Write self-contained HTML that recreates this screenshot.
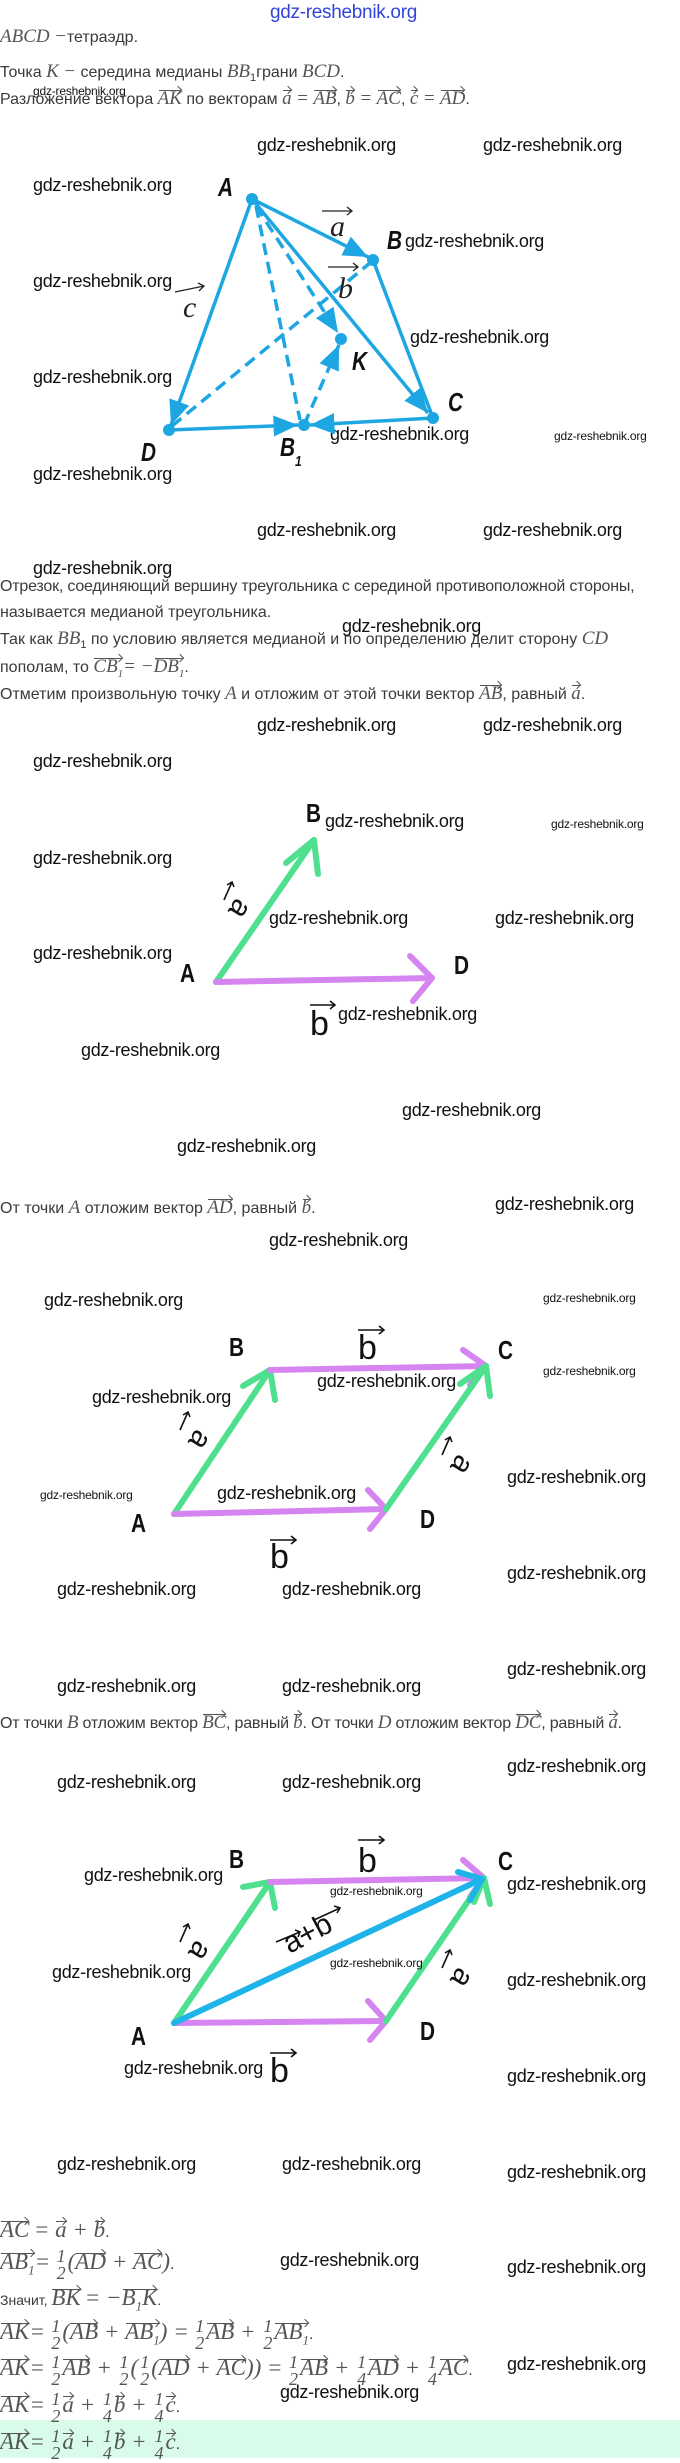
<!DOCTYPE html>
<html><head><meta charset="utf-8">
<style>
*{margin:0;padding:0}
body{width:680px;height:2458px;position:relative;background:#fff;overflow:hidden;font-family:"Liberation Sans",sans-serif;color:#3a3a3a}
.t{position:absolute;left:0;font-size:16px;line-height:20px;white-space:nowrap}
.m{font-family:"Liberation Serif",serif;font-style:italic;font-size:19px;color:#555}
.v{position:relative;display:inline-block}
.v::before{content:"";position:absolute;left:1px;right:1px;top:1px;border-top:1px solid #555}
.v::after{content:"";position:absolute;right:1px;top:-2px;width:5px;height:5px;border-top:1px solid #555;border-right:1px solid #555;transform:rotate(45deg)}
.w{position:absolute;font-family:"Liberation Sans",sans-serif;font-size:18px;line-height:22px;color:#111;white-space:nowrap;letter-spacing:-0.3px}
.ws{font-size:12px;line-height:16px;letter-spacing:-0.2px}
.L{position:absolute;font-family:"Liberation Sans",sans-serif;font-weight:bold;font-size:26px;line-height:30px;color:#111;transform:scaleX(0.8);transform-origin:left}
.fr{display:inline-block;vertical-align:middle;text-align:center;font-size:17px;line-height:17px;margin:0 2px}
.fr span{display:block}
.f .m{font-size:23px}
.f .fr.m{font-size:18px}
</style></head><body>

<div class="w" style="left:270px;top:2px;color:#3344dd;font-size:19px;">gdz-reshebnik.org</div>

<div class="t" style="top:27px"><span class="m">ABCD</span> <span class="m">−</span>тетраэдр.</div>
<div class="t" style="top:62px">Точка <span class="m">K</span> <span class="m">−</span> середина медианы <span class="m">BB</span><sub style="font-size:11px">1</sub>грани <span class="m">BCD</span>.</div>
<div class="w ws" style="left:33px;top:83px">gdz-reshebnik.org</div>
<div class="t" style="top:89px">Разложение вектора <span class="m v">AK</span> по векторам <span class="m v">a</span> <span class="m">=</span> <span class="m v">AB</span>, <span class="m v">b</span> <span class="m">=</span> <span class="m v">AC</span>, <span class="m v">c</span> <span class="m">=</span> <span class="m v">AD</span>.</div>

<div class="w" style="left:257px;top:134px">gdz-reshebnik.org</div>
<div class="w" style="left:483px;top:134px">gdz-reshebnik.org</div>
<div class="w" style="left:33px;top:174px">gdz-reshebnik.org</div>
<div class="w" style="left:405px;top:230px">gdz-reshebnik.org</div>
<div class="w" style="left:33px;top:270px">gdz-reshebnik.org</div>
<div class="w" style="left:410px;top:326px">gdz-reshebnik.org</div>
<div class="w" style="left:33px;top:366px">gdz-reshebnik.org</div>
<div class="w" style="left:330px;top:423px">gdz-reshebnik.org</div>
<div class="w ws" style="left:554px;top:428px">gdz-reshebnik.org</div>
<div class="w" style="left:33px;top:463px">gdz-reshebnik.org</div>
<div class="w" style="left:257px;top:519px">gdz-reshebnik.org</div>
<div class="w" style="left:483px;top:519px">gdz-reshebnik.org</div>
<div class="w" style="left:33px;top:557px">gdz-reshebnik.org</div>

<svg style="position:absolute;left:0;top:0" width="680" height="2458">
<defs>
<marker id="ab" markerWidth="8" markerHeight="8" refX="7" refY="4" orient="auto" markerUnits="strokeWidth"><path d="M0,1 L7,4 L0,7 z" fill="#1ea6e2"/></marker>
</defs>
<g stroke="#1ea6e2" stroke-width="3.5" fill="none">
<line x1="252" y1="199" x2="368" y2="257" marker-end="url(#ab)"/>
<line x1="252" y1="199" x2="428" y2="413" marker-end="url(#ab)"/>
<line x1="252" y1="199" x2="171" y2="425" marker-end="url(#ab)"/>
<line x1="373" y1="260" x2="433" y2="418"/>
<line x1="169" y1="430" x2="298" y2="425" marker-end="url(#ab)"/>
<line x1="433" y1="418" x2="310" y2="425" marker-end="url(#ab)"/>
<g stroke-dasharray="12,7">
<line x1="256" y1="206" x2="300" y2="420"/>
<line x1="256" y1="206" x2="338" y2="333" marker-end="url(#ab)"/>
<line x1="172" y1="426" x2="370" y2="263"/>
<line x1="304" y1="425" x2="339" y2="345" marker-end="url(#ab)"/>
</g>
</g>
<g fill="#1ea6e2">
<circle cx="252" cy="199" r="6"/><circle cx="373" cy="260" r="6"/><circle cx="433" cy="418" r="6"/>
<circle cx="169" cy="430" r="6"/><circle cx="304" cy="425" r="6"/><circle cx="341" cy="339" r="6"/>
</g>
<g font-family="Liberation Serif,serif" font-style="italic" font-size="30" fill="#222">
<text x="330" y="236">a</text><text x="338" y="298">b</text><text x="183" y="317">c</text>
</g>
<g stroke="#222" stroke-width="1.3" fill="none">
<path d="M322,211 H352 M347,207 L352,211 L347,215"/>
<path d="M328,267 H358 M353,263 L358,267 L353,271"/>
<path d="M175,292 L204,286 M198,283 L204,286 L199,291"/>
</g>

<g fill="none" stroke-width="6" stroke-linecap="round" stroke-linejoin="round">
<line x1="216" y1="982" x2="314" y2="840" stroke="#4fe08f"/>
<polyline points="286,863 314,840 318,874" stroke="#4fe08f"/>
<line x1="216" y1="982" x2="432" y2="978" stroke="#d684f0"/>
<polyline points="410,956 432,978 413,1001" stroke="#d684f0"/>
</g>

<g fill="none" stroke-width="6" stroke-linecap="round" stroke-linejoin="round">
<line x1="174" y1="1514" x2="270" y2="1370" stroke="#4fe08f"/>
<polyline points="243,1386 270,1370 275,1400" stroke="#4fe08f"/>
<line x1="270" y1="1370" x2="486" y2="1366" stroke="#d684f0"/>
<polyline points="463,1350 486,1366 470,1385" stroke="#d684f0"/>
<line x1="174" y1="1514" x2="386" y2="1509" stroke="#d684f0"/>
<polyline points="368,1490 386,1509 370,1529" stroke="#d684f0"/>
<line x1="386" y1="1509" x2="486" y2="1366" stroke="#4fe08f"/>
<polyline points="460,1384 486,1366 490,1396" stroke="#4fe08f"/>
</g>

<g fill="none" stroke-width="6" stroke-linecap="round" stroke-linejoin="round">
<line x1="174" y1="2023" x2="270" y2="1882" stroke="#4fe08f"/>
<polyline points="243,1887 270,1882 275,1908" stroke="#4fe08f"/>
<line x1="270" y1="1882" x2="484" y2="1878" stroke="#d684f0"/>
<polyline points="463,1860 484,1878 470,1897" stroke="#d684f0"/>
<line x1="174" y1="2023" x2="386" y2="2021" stroke="#d684f0"/>
<polyline points="368,2001 386,2021 370,2040" stroke="#d684f0"/>
<line x1="386" y1="2021" x2="484" y2="1878" stroke="#4fe08f"/>
<polyline points="474,1902 484,1878 490,1904" stroke="#4fe08f"/>
<line x1="174" y1="2023" x2="482" y2="1879" stroke="#1eb4ea"/>
<polyline points="458,1872 482,1879 470,1900" stroke="#1eb4ea"/>
</g>
<g font-family="Liberation Sans,sans-serif" font-size="34" fill="#111">
<text x="310" y="1035">b</text>
<text x="358" y="1359">b</text><text x="270" y="1568">b</text>
<text x="358" y="1872">b</text><text x="270" y="2082">b</text>
</g>
<g stroke="#111" stroke-width="1.6" fill="none">
<path d="M310,1005 H335 M330,1001 L335,1005 L330,1009"/>
<path d="M358,1330 H384 M379,1326 L384,1330 L379,1334"/>
<path d="M270,1540 H296 M291,1536 L296,1540 L291,1544"/>
<path d="M270,2053 H296 M291,2049 L296,2053 L291,2057"/>
<path d="M358,1840 H384 M379,1836 L384,1840 L379,1844"/>
</g>
<g font-family="Liberation Sans,sans-serif" font-size="30" fill="#111">
<text transform="translate(232,904) rotate(122)" text-anchor="middle">a</text>
<text transform="translate(192,1435) rotate(122)" text-anchor="middle">a</text>
<text transform="translate(454,1460) rotate(122)" text-anchor="middle">a</text>
<text transform="translate(192,1946) rotate(122)" text-anchor="middle">a</text>
<text transform="translate(454,1973) rotate(122)" text-anchor="middle">a</text>
<text transform="translate(312,1942) rotate(-28)" text-anchor="middle">a+b</text>
</g>
<g stroke="#111" stroke-width="1.6" fill="none">
<path d="M224,900 L232,882 M227,885 L232,882 L234,887"/>
<path d="M180,1430 L188,1412 M183,1415 L188,1412 L190,1417"/>
<path d="M442,1455 L450,1437 M445,1440 L450,1437 L452,1442"/>
<path d="M180,1942 L188,1924 M183,1927 L188,1924 L190,1929"/>
<path d="M442,1968 L450,1950 M445,1953 L450,1950 L452,1955"/>
<path d="M276,1942 L300,1932 M295,1930 L300,1932 L298,1937"/>
<path d="M314,1920 L340,1908 M334,1906 L340,1908 L337,1913"/>
</g>
</svg>

<div class="L" style="left:218px;top:172px;font-style:italic">A</div>
<div class="L" style="left:387px;top:225px;font-style:italic">B</div>
<div class="L" style="left:448px;top:387px;font-style:italic">C</div>
<div class="L" style="left:141px;top:437px;font-style:italic">D</div>
<div class="L" style="left:280px;top:432px;font-style:italic">B<span style="font-size:15px;vertical-align:-10px">1</span></div>
<div class="L" style="left:352px;top:346px;font-style:italic">K</div>

<div class="t" style="top:577px;letter-spacing:-0.2px">Отрезок, соединяющий вершину треугольника с серединой противоположной стороны,</div>
<div class="t" style="top:603px">называется медианой треугольника.</div>
<div class="t" style="top:629px">Так как <span class="m">BB</span><sub style="font-size:11px">1</sub> по условию является медианой и по определению делит сторону <span class="m">CD</span></div>
<div class="t" style="top:657px">пополам, то <span class="m v">CB<sub style="font-size:11px">1</sub></span><span class="m">= −</span><span class="m v">DB<sub style="font-size:11px">1</sub></span>.</div>
<div class="t" style="top:684px">Отметим произвольную точку <span class="m">A</span> и отложим от этой точки вектор <span class="m v">AB</span>, равный <span class="m v">a</span>.</div>
<div class="w" style="left:342px;top:615px">gdz-reshebnik.org</div>

<div class="w" style="left:257px;top:714px">gdz-reshebnik.org</div>
<div class="w" style="left:483px;top:714px">gdz-reshebnik.org</div>
<div class="w" style="left:33px;top:750px">gdz-reshebnik.org</div>
<div class="w" style="left:325px;top:810px">gdz-reshebnik.org</div>
<div class="w ws" style="left:551px;top:816px">gdz-reshebnik.org</div>
<div class="w" style="left:33px;top:847px">gdz-reshebnik.org</div>
<div class="w" style="left:269px;top:907px">gdz-reshebnik.org</div>
<div class="w" style="left:495px;top:907px">gdz-reshebnik.org</div>
<div class="w" style="left:33px;top:942px">gdz-reshebnik.org</div>
<div class="w" style="left:338px;top:1003px">gdz-reshebnik.org</div>
<div class="w" style="left:81px;top:1039px">gdz-reshebnik.org</div>
<div class="w" style="left:402px;top:1099px">gdz-reshebnik.org</div>
<div class="w" style="left:177px;top:1135px">gdz-reshebnik.org</div>

<div class="L" style="left:306px;top:798px">B</div>
<div class="L" style="left:180px;top:958px">A</div>
<div class="L" style="left:454px;top:950px">D</div>

<div class="t" style="top:1198px">От точки <span class="m">A</span> отложим вектор <span class="m v">AD</span>, равный <span class="m v">b</span>.</div>
<div class="w" style="left:495px;top:1193px">gdz-reshebnik.org</div>
<div class="w" style="left:269px;top:1229px">gdz-reshebnik.org</div>
<div class="w" style="left:44px;top:1289px">gdz-reshebnik.org</div>
<div class="w ws" style="left:543px;top:1290px">gdz-reshebnik.org</div>
<div class="w ws" style="left:543px;top:1363px">gdz-reshebnik.org</div>
<div class="w" style="left:92px;top:1386px">gdz-reshebnik.org</div>
<div class="w" style="left:317px;top:1370px">gdz-reshebnik.org</div>
<div class="w" style="left:217px;top:1482px">gdz-reshebnik.org</div>
<div class="w ws" style="left:40px;top:1487px">gdz-reshebnik.org</div>
<div class="w" style="left:507px;top:1466px">gdz-reshebnik.org</div>
<div class="w" style="left:507px;top:1562px">gdz-reshebnik.org</div>
<div class="w" style="left:57px;top:1578px">gdz-reshebnik.org</div>
<div class="w" style="left:282px;top:1578px">gdz-reshebnik.org</div>
<div class="w" style="left:507px;top:1658px">gdz-reshebnik.org</div>
<div class="w" style="left:57px;top:1675px">gdz-reshebnik.org</div>
<div class="w" style="left:282px;top:1675px">gdz-reshebnik.org</div>
<div class="t" style="top:1713px;letter-spacing:-0.2px">От точки <span class="m">B</span> отложим вектор <span class="m v">BC</span>, равный <span class="m v">b</span>. От точки <span class="m">D</span> отложим вектор <span class="m v">DC</span>, равный <span class="m v">a</span>.</div>
<div class="w" style="left:507px;top:1755px">gdz-reshebnik.org</div>
<div class="w" style="left:57px;top:1771px">gdz-reshebnik.org</div>
<div class="w" style="left:282px;top:1771px">gdz-reshebnik.org</div>

<div class="L" style="left:229px;top:1332px">B</div>
<div class="L" style="left:498px;top:1335px">C</div>
<div class="L" style="left:131px;top:1508px">A</div>
<div class="L" style="left:420px;top:1504px">D</div>

<div class="L" style="left:229px;top:1844px">B</div>
<div class="L" style="left:498px;top:1846px">C</div>
<div class="L" style="left:131px;top:2021px">A</div>
<div class="L" style="left:420px;top:2016px">D</div>
<div class="w" style="left:84px;top:1864px">gdz-reshebnik.org</div>
<div class="w ws" style="left:330px;top:1883px">gdz-reshebnik.org</div>
<div class="w" style="left:507px;top:1873px">gdz-reshebnik.org</div>
<div class="w" style="left:52px;top:1961px">gdz-reshebnik.org</div>
<div class="w ws" style="left:330px;top:1955px">gdz-reshebnik.org</div>
<div class="w" style="left:507px;top:1969px">gdz-reshebnik.org</div>
<div class="w" style="left:124px;top:2057px">gdz-reshebnik.org</div>
<div class="w" style="left:507px;top:2065px">gdz-reshebnik.org</div>
<div class="w" style="left:57px;top:2153px">gdz-reshebnik.org</div>
<div class="w" style="left:282px;top:2153px">gdz-reshebnik.org</div>
<div class="w" style="left:507px;top:2161px">gdz-reshebnik.org</div>

<div style="position:absolute;left:0;top:2420px;width:680px;height:38px;background:#d9fbe9"></div>

<div class="t f" style="top:2220px"><span class="m v">AC</span> <span class="m">= <span class="v">a</span> + <span class="v">b</span></span>.</div>
<div class="t f" style="top:2248px"><span class="m v">AB<sub style="font-size:13px">1</sub></span><span class="m">=</span> <span class="fr m"><span>1</span><span>2</span></span><span class="m">(<span class="v">AD</span> + <span class="v">AC</span>)</span>.</div>
<div class="t f" style="top:2288px;font-size:14px">Значит, <span class="m v">BK</span> <span class="m">= −<span class="v">B<sub style="font-size:13px">1</sub>K</span></span>.</div>
<div class="t f" style="top:2318px"><span class="m v">AK</span><span class="m">=</span> <span class="fr m"><span>1</span><span>2</span></span><span class="m">(<span class="v">AB</span> + <span class="v">AB<sub style="font-size:13px">1</sub></span>) =</span> <span class="fr m"><span>1</span><span>2</span></span><span class="m v">AB</span><span class="m"> + </span><span class="fr m"><span>1</span><span>2</span></span><span class="m v">AB<sub style="font-size:13px">1</sub></span>.</div>
<div class="t f" style="top:2354px"><span class="m v">AK</span><span class="m">=</span> <span class="fr m"><span>1</span><span>2</span></span><span class="m v">AB</span><span class="m"> + </span><span class="fr m"><span>1</span><span>2</span></span><span class="m">(</span><span class="fr m"><span>1</span><span>2</span></span><span class="m">(<span class="v">AD</span> + <span class="v">AC</span>)) =</span> <span class="fr m"><span>1</span><span>2</span></span><span class="m v">AB</span><span class="m"> + </span><span class="fr m"><span>1</span><span>4</span></span><span class="m v">AD</span><span class="m"> + </span><span class="fr m"><span>1</span><span>4</span></span><span class="m v">AC</span>.</div>
<div class="t f" style="top:2391px"><span class="m v">AK</span><span class="m">=</span> <span class="fr m"><span>1</span><span>2</span></span><span class="m v">a</span><span class="m"> + </span><span class="fr m"><span>1</span><span>4</span></span><span class="m v">b</span><span class="m"> + </span><span class="fr m"><span>1</span><span>4</span></span><span class="m v">c</span>.</div>
<div class="t f" style="top:2428px"><span class="m v">AK</span><span class="m">=</span> <span class="fr m"><span>1</span><span>2</span></span><span class="m v">a</span><span class="m"> + </span><span class="fr m"><span>1</span><span>4</span></span><span class="m v">b</span><span class="m"> + </span><span class="fr m"><span>1</span><span>4</span></span><span class="m v">c</span>.</div>
<div class="w" style="left:280px;top:2249px">gdz-reshebnik.org</div>
<div class="w" style="left:507px;top:2256px">gdz-reshebnik.org</div>
<div class="w" style="left:507px;top:2353px">gdz-reshebnik.org</div>
<div class="w" style="left:280px;top:2381px">gdz-reshebnik.org</div>
</body></html>
